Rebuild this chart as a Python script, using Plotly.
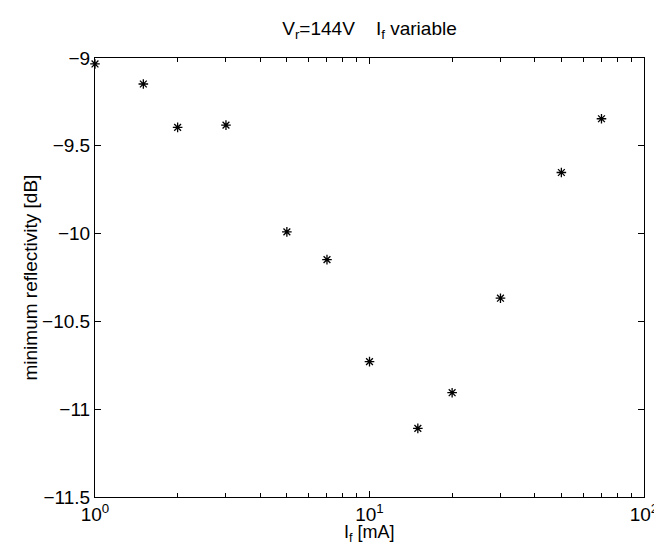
import plotly.graph_objects as go

# Data
current_mA = [1, 1.5, 2, 3, 5, 7, 10, 15, 20, 30, 50, 70]
min_reflectivity_dB = [-9.034, -9.148, -9.395, -9.382, -9.99, -10.148,
                       -10.729, -11.109, -10.906, -10.368, -9.652, -9.346]

x_major_vals = [1, 10, 100]
x_major_text = ["10<sup>0</sup>", "10<sup>1</sup>", "10<sup>2</sup>"]
x_minor_vals = [2, 3, 4, 5, 6, 7, 8, 9, 20, 30, 40, 50, 60, 70, 80, 90]
y_tick_vals = [-11.5, -11, -10.5, -10, -9.5, -9]
y_tick_text = ["\u221211.5", "\u221211", "\u221210.5", "\u221210", "\u22129.5", "\u22129"]

title_text = "V<sub>r</sub>=144V\u00a0\u00a0\u00a0\u00a0I<sub>f</sub> variable"
x_title = "I<sub>f</sub> [mA]"
y_title = "minimum reflectivity [dB]"

FONT = "Liberation Sans, Arial, sans-serif"
FS = 19
H = 544

fig = go.Figure()
fig.add_trace(go.Scatter(
    x=current_mA, y=min_reflectivity_dB, mode="markers",
    marker=dict(symbol="asterisk-open", size=8, color="black",
                line=dict(color="black", width=1.3)),
    cliponaxis=False, showlegend=False,
))

fig.update_layout(
    width=662, height=H,
    margin=dict(l=87, r=17, t=50, b=55),
    paper_bgcolor="white", plot_bgcolor="white",
    font=dict(family=FONT, size=FS, color="black"),
    title=dict(
        text=title_text,
        x=0.5, xref="paper", xanchor="center",
        y=1 - 20 / H, yref="container", yanchor="middle",
        font=dict(family=FONT, size=FS, color="black"),
    ),
    annotations=[
        dict(text=x_title, xref="paper", yref="paper", x=0.5, y=0,
             xanchor="center", yanchor="middle", yshift=-36, showarrow=False,
             borderpad=0,
             font=dict(family=FONT, size=FS - 1, color="black")),
        dict(text=y_title, xref="paper", yref="paper", x=0, y=0.5,
             xanchor="center", yanchor="middle", xshift=-65, textangle=-90,
             showarrow=False, font=dict(family=FONT, size=FS, color="black")),
    ],
)

fig.update_xaxes(
    type="log", range=[0, 2],
    tickmode="array", tickvals=x_major_vals, ticktext=x_major_text,
    ticks="inside", ticklen=6, tickwidth=1, tickcolor="black",
    showline=True, linecolor="black", linewidth=1, mirror="ticks",
    showgrid=False, zeroline=False,
    minor=dict(tickmode="array", tickvals=x_minor_vals, ticks="inside",
               ticklen=4, tickwidth=1, tickcolor="black", showgrid=False),
    tickfont=dict(family=FONT, size=FS, color="black"),
)

fig.update_yaxes(
    range=[-11.5, -9],
    tickmode="array", tickvals=y_tick_vals, ticktext=y_tick_text,
    ticks="inside", ticklen=6, tickwidth=1, tickcolor="black",
    showline=True, linecolor="black", linewidth=1, mirror="ticks",
    showgrid=False, zeroline=False,
    tickfont=dict(family=FONT, size=FS, color="black"),
)

fig.write_html("out.html")
